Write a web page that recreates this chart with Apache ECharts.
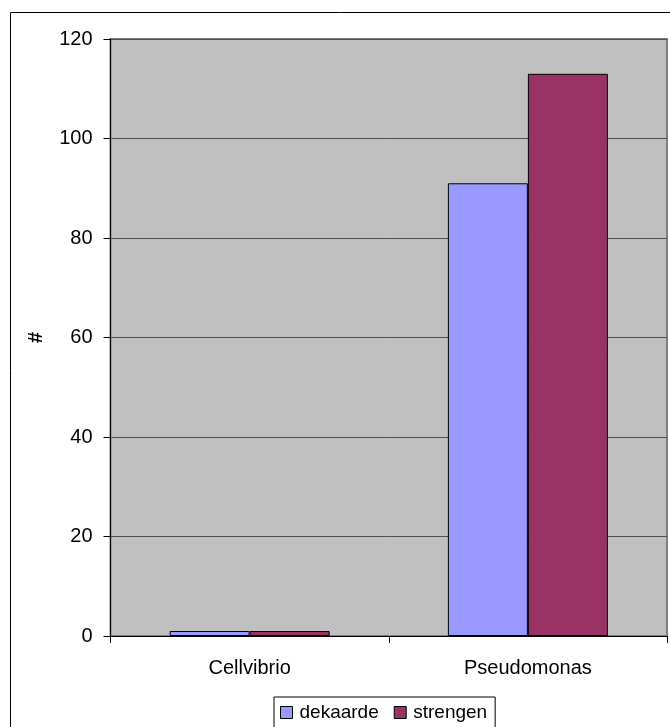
<!DOCTYPE html>
<html>
<head>
<meta charset="utf-8">
<style>
  html, body { margin: 0; padding: 0; background: #fff; }
  #chart { width: 670px; height: 727px; }
</style>
<script src="https://cdn.jsdelivr.net/npm/echarts@6/dist/echarts.min.js"></script>
</head>
<body>
<div id="chart"></div>
<script>
// Counts per genus for the two sample types
const categories = ['Cellvibrio', 'Pseudomonas'];
const dekaarde = [1, 91];
const strengen = [1, 113];
const yTicks = { min: 0, max: 120, interval: 20 };

const FONT = '"Liberation Sans", Arial, sans-serif';

const chart = echarts.init(document.getElementById('chart'), null, { renderer: 'canvas' });

chart.setOption({
  animation: false,
  backgroundColor: '#ffffff',
  textStyle: { fontFamily: FONT },
  graphic: [
    {
      // outer chart-area frame (runs past the right/bottom edge)
      type: 'rect',
      left: 8, top: 10,
      shape: { width: 700, height: 740 },
      style: { fill: null, stroke: '#000', lineWidth: 1 },
      z: 0
    }
  ],
  grid: {
    left: 110.5,
    top: 39,
    right: 3,
    bottom: 91,
    show: true,
    backgroundColor: '#c0c0c0',
    borderColor: '#808080',
    borderWidth: 2
  },
  legend: {
    left: 274,
    top: 697,
    orient: 'horizontal',
    itemWidth: 12,
    itemHeight: 12,
    itemGap: 15,
    padding: [6, 8, 12, 6],
    borderColor: '#000',
    borderWidth: 1,
    icon: 'rect',
    textStyle: { fontFamily: FONT, fontSize: 19, color: '#000', padding: [0, 0, 0, 2] },
    itemStyle: { borderColor: '#000', borderWidth: 1 },
    data: ['dekaarde', 'strengen']
  },
  xAxis: {
    type: 'category',
    data: categories,
    axisLine: { show: true, lineStyle: { color: '#000', width: 1 } },
    axisTick: { show: true, length: 7, alignWithLabel: false, lineStyle: { color: '#000' } },
    axisLabel: { fontFamily: FONT, fontSize: 20, color: '#000', margin: 22 },
    splitLine: { show: false }
  },
  yAxis: {
    type: 'value',
    min: yTicks.min,
    max: yTicks.max,
    interval: yTicks.interval,
    name: '#',
    nameLocation: 'middle',
    nameRotate: 90,
    nameGap: 64,
    nameTextStyle: { fontFamily: FONT, fontSize: 20, fontWeight: 'bold', color: '#000' },
    axisLine: { show: true, lineStyle: { color: '#000', width: 1 } },
    axisTick: { show: true, length: 7, lineStyle: { color: '#000' } },
    axisLabel: { fontFamily: FONT, fontSize: 20, color: '#000', margin: 18 },
    splitLine: { show: true, lineStyle: { color: '#4d4d4d', width: 1 } }
  },
  series: [
    {
      name: 'dekaarde',
      type: 'bar',
      data: dekaarde,
      barWidth: 80,
      barGap: '0%',
      itemStyle: { color: '#9999ff', borderColor: '#000', borderWidth: 1 }
    },
    {
      name: 'strengen',
      type: 'bar',
      data: strengen,
      barWidth: 80,
      barGap: '0%',
      itemStyle: { color: '#993366', borderColor: '#000', borderWidth: 1 }
    }
  ]
});
</script>
</body>
</html>
